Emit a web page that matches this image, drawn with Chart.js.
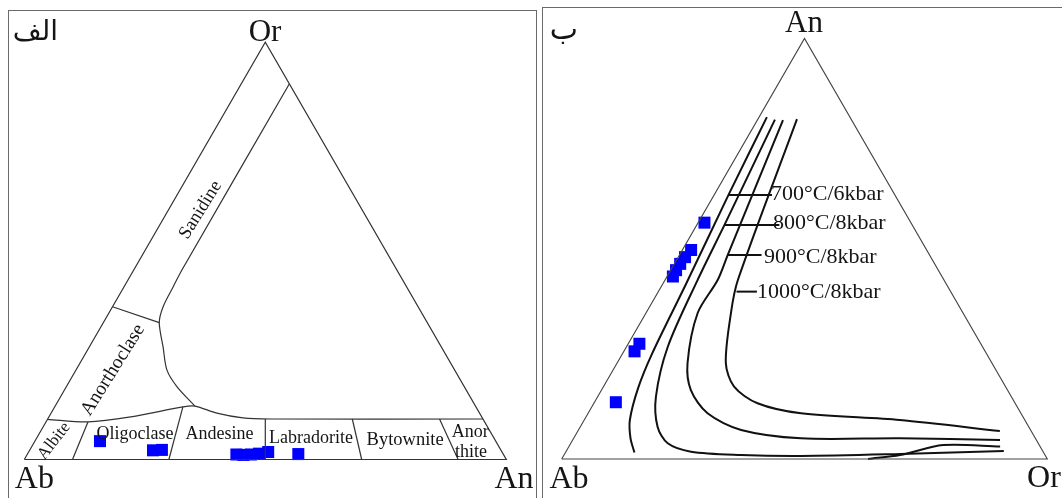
<!DOCTYPE html>
<html>
<head>
<meta charset="utf-8">
<script src="https://cdn.jsdelivr.net/npm/chart.js@4.4.1/dist/chart.umd.min.js"></script>
<style>
html,body{margin:0;padding:0;background:#fff;width:1062px;height:498px;overflow:hidden;}
canvas{position:absolute;top:0;}
#cL{left:0;}
#cR{left:540px;}
.frame{position:absolute;box-sizing:border-box;pointer-events:none;}
#fL{left:8px;top:10px;width:529px;height:520px;border:1px solid #6a6a6a;}
#fR{left:542px;top:7px;width:540px;height:520px;border:1px solid #6a6a6a;}
</style>
</head>
<body>
<canvas id="cL" width="540" height="498"></canvas>
<canvas id="cR" width="522" height="498"></canvas>
<div class="frame" id="fL"></div>
<div class="frame" id="fR"></div>
<script>
// ---------- sample compositions (mol %) ----------
const sampleAn = [13.5, 25.6, 27.4, 43.4, 44.9, 46.4, 48.0, 49.7, 56.2];
const sampleOr = [4.4, 2.2, 2.3, 1.2, 1.1, 1.2, 1.4, 1.8, 1.3];

// ---------- left diagram (Ab - An - Or) boundaries, [An, Or] ----------
const triangleL = [[0,0],[100,0],[0,100],[0,0]];
const stripTop = [[0,9.6],[8.7,9.0],[17,10.2],[26.6,12.6],[29.0,12.8],[34.4,11.1],[40.4,9.95],[46.2,9.7],[90.3,9.7]];
const ternaryGap = [[29.0,12.8],[23.0,17.4],[18.9,21.4],[15.35,26.9],[11.6,32.8],[10.5,36.6],[10.2,41.4],[10.0,45.4],[10,90]];
const sanidineBase = [[0,36.6],[11.6,32.8]];
const divAlbOli = [[10,0],[8.7,9.0]];
const divOliAnd = [[30,0],[26.6,12.6]];
const divAndLab = [[50,0],[45.15,9.7]];
const divLabByt = [[70,0],[63.2,9.7]];
const divBytAno = [[90,0],[81.3,9.7]];

// ---------- right diagram (Ab - Or - An) isotherms, [An, Or] ----------
const triangleR = [[0,0],[0,100],[100,0],[0,0]];
const iso700 = [[81.3,1.6],[62.8,2.95],[41.6,4.8],[24.95,6.1],[16.9,7.3],[9.27,9.4],[4.99,11.67],[1.55,14.2]];
const iso700b = [[0,63.1],[0.95,69.2],[3.33,76.9],[2.97,88.8]];
const iso800 = [[80.7,3.56],[55.6,5.7],[42.6,6.7],[26.7,8.5],[14.8,12.0],[7.68,15.9],[3.73,19.97],[1.74,25.76],[0.95,36.45],[0.71,48.9],[1.19,69.1],[1.9,90.1]];
const iso900 = [[80.6,5.27],[48.5,9.93],[42.56,10.84],[34.72,10.64],[22.83,14.5],[16.4,18.4],[10.87,24.6],[6.9,33.5],[4.92,46.8],[4.92,67.2],[4.52,88.0]];
const iso1000 = [[80.8,8.05],[42.56,15.0],[34.7,17.5],[22.8,22.4],[17.2,26.9],[13.25,33.7],[10.87,43.85],[9.27,65.0],[6.66,86.9]];
const tick700 = [[62.8,2.95],[62.8,11.9]];
const tick800 = [[55.65,5.68],[55.65,17.0]];
const tick900 = [[48.5,9.93],[48.5,16.9]];
const tick1000 = [[39.8,16.1],[39.8,20.3]];
const isoLabels = ['700°C/6kbar','800°C/8kbar','900°C/8kbar','1000°C/8kbar'];

// ---------- ternary -> cartesian ----------
const H = Math.sqrt(3)/2;
const toL = p => ({x: p[0] + p[1]/2, y: p[1]*H});     // An right, Or top
const toR = p => ({x: p[1] + p[0]/2, y: p[0]*H});     // Or right, An top

const textPlugin = {
  id: 'panelText',
  afterDatasetsDraw(chart, args, opts) {
    const ctx = chart.ctx, sx = chart.scales.x, sy = chart.scales.y;
    (opts.items || []).forEach(it => {
      ctx.save();
      ctx.translate(sx.getPixelForValue(it.x), sy.getPixelForValue(it.y));
      if (it.rot) ctx.rotate(it.rot * Math.PI / 180);
      ctx.font = it.font;
      ctx.fillStyle = '#151515';
      ctx.textAlign = it.align || 'center';
      ctx.textBaseline = 'middle';
      ctx.fillText(it.text, 0, 0);
      ctx.restore();
    });
  }
};

function lineDs(pts, conv, color, width, tension) {
  return {type:'scatter', data: pts.map(conv), showLine:true, pointRadius:0,
          borderColor:color, borderWidth:width, tension:tension||0, fill:false};
}
function pointsDs(conv) {
  return {type:'scatter', data: sampleAn.map((a,i)=>conv([a, sampleOr[i]])),
          pointStyle:'rect', pointRadius:8.5, backgroundColor:'#0000ff', borderWidth:0};
}
function makeChart(id, frame, datasets, items) {
  const c = document.getElementById(id);
  new Chart(c, {
    type:'scatter',
    data:{datasets},
    options:{
      responsive:false, animation:false, events:[],
      layout:{padding:0, autoPadding:false},
      scales:{
        x:{type:'linear', display:false, min:-frame.ox/frame.s, max:(frame.w-frame.ox)/frame.s},
        y:{type:'linear', display:false, min:-(frame.h-frame.oy)/frame.s, max:frame.oy/frame.s}
      },
      plugins:{legend:{display:false}, tooltip:{enabled:false}, panelText:{items}}
    },
    plugins:[textPlugin]
  });
}

const serif = '"Liberation Serif","Times New Roman",serif';
const arab = '"Liberation Serif","DejaVu Serif","DejaVu Sans",serif';

// left panel
makeChart('cL', {ox:24.3, oy:459.5, s:4.82, w:540, h:498}, [
  lineDs(triangleL, toL, '#333', 1.2),
  lineDs(stripTop, toL, '#333', 1.2, 0.3),
  lineDs(ternaryGap, toL, '#333', 1.2, 0.3),
  lineDs(sanidineBase, toL, '#333', 1.2),
  lineDs(divAlbOli, toL, '#333', 1.2),
  lineDs(divOliAnd, toL, '#333', 1.2),
  lineDs(divAndLab, toL, '#333', 1.2),
  lineDs(divLabByt, toL, '#333', 1.2),
  lineDs(divBytAno, toL, '#333', 1.2),
  pointsDs(toL)
], [
  {text:'الف', x:2.3, y:88.6, font:'28px '+arab},
  {text:'Or', x:49.94, y:88.6, font:'31px '+serif},
  {text:'Ab', x:2.1, y:-4.25, font:'32px '+serif},
  {text:'An', x:101.6, y:-4.25, font:'32px '+serif},
  {text:'Albite', x:6.16, y:3.84, font:'17px '+serif, rot:-52},
  {text:'Oligoclase', x:22.97, y:5.2, font:'18px '+serif},
  {text:'Andesine', x:40.5, y:5.2, font:'18px '+serif},
  {text:'Labradorite', x:59.5, y:4.5, font:'18px '+serif},
  {text:'Bytownite', x:79.0, y:4.0, font:'18.5px '+serif},
  {text:'Anor', x:92.5, y:5.6, font:'18px '+serif},
  {text:'thite', x:92.7, y:1.6, font:'18px '+serif},
  {text:'Anorthoclase', x:18.4, y:18.57, font:'19.5px '+serif, rot:-58},
  {text:'Sanidine', x:36.56, y:51.76, font:'18.5px '+serif, rot:-58}
]);

// right panel
makeChart('cR', {ox:21.7, oy:459, s:4.856, w:522, h:498}, [
  lineDs(triangleR, toR, '#444', 1.1),
  lineDs(iso700, toR, '#111', 2, 0.3),
  lineDs(iso700b, toR, '#111', 2, 0.3),
  lineDs(iso800, toR, '#111', 2, 0.3),
  lineDs(iso900, toR, '#111', 2, 0.3),
  lineDs(iso1000, toR, '#111', 2, 0.3),
  lineDs(tick700, toR, '#111', 2),
  lineDs(tick800, toR, '#111', 2),
  lineDs(tick900, toR, '#111', 2),
  lineDs(tick1000, toR, '#111', 2),
  pointsDs(toR)
], [
  {text:'ب', x:0.47, y:88.1, font:'30px '+arab},
  {text:'An', x:49.9, y:89.6, font:'31px '+serif},
  {text:'Ab', x:1.5, y:-4.32, font:'32px '+serif},
  {text:'Or', x:99.3, y:-4.1, font:'32px '+serif},
  {text:isoLabels[0], x:43.1, y:54.5, font:'22px '+serif, align:'left'},
  {text:isoLabels[1], x:43.5, y:48.6, font:'22px '+serif, align:'left'},
  {text:isoLabels[2], x:41.66, y:41.6, font:'22px '+serif, align:'left'},
  {text:isoLabels[3], x:40.2, y:34.4, font:'22px '+serif, align:'left'}
]);
</script>
</body>
</html>
